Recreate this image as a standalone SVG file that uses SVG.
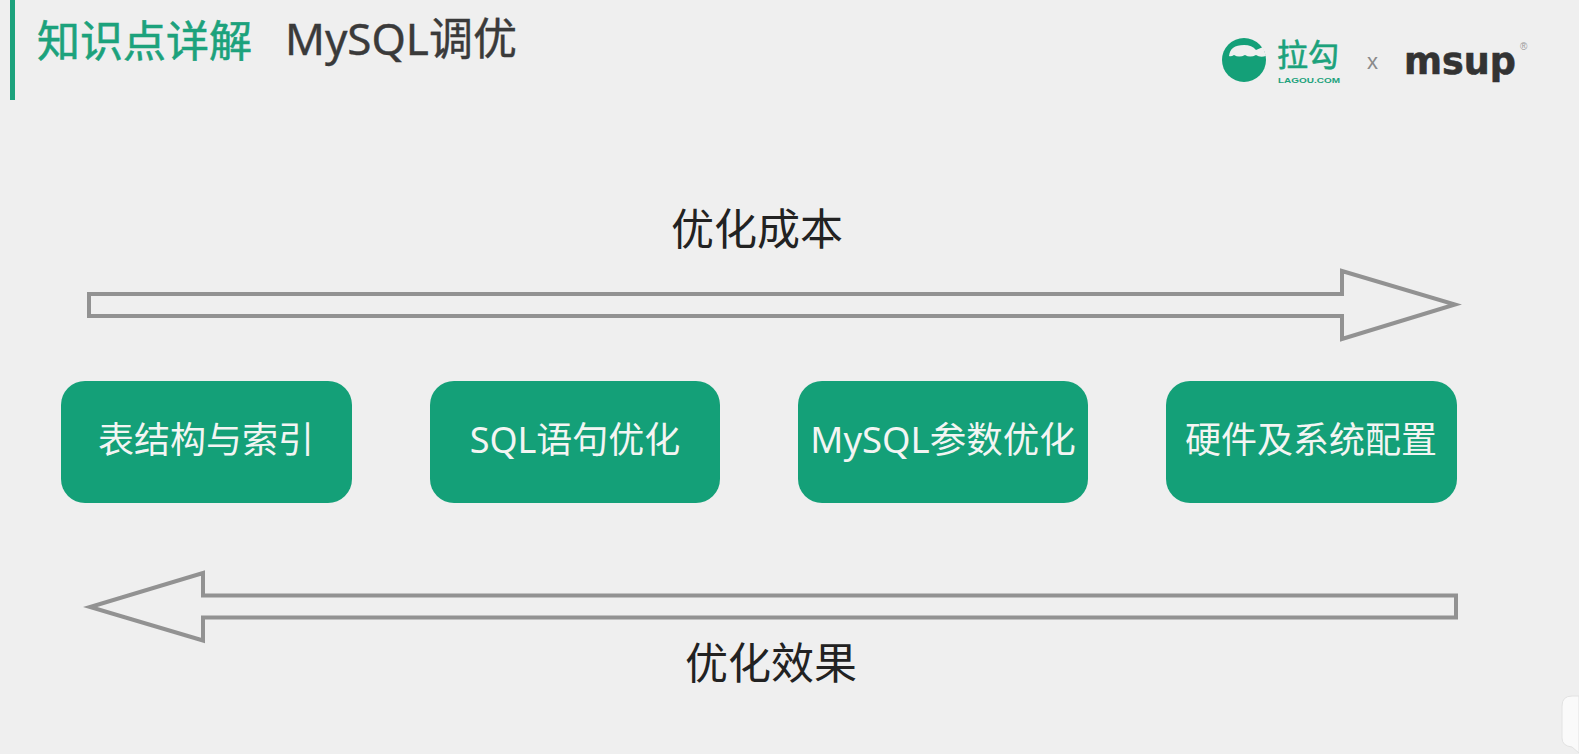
<svg xmlns="http://www.w3.org/2000/svg" width="1579" height="754" viewBox="0 0 1579 754">
<style>
text{font-family:"Liberation Sans","Noto Sans CJK SC",sans-serif}
.cjk{font-family:"Noto Sans CJK SC","Noto Sans",sans-serif}
.box{fill:#14a078}
.boxt{fill:#f3f5f3;font-size:36px;text-anchor:middle;font-family:"Noto Sans","Noto Sans CJK SC",sans-serif}
.cap{fill:#222;font-size:43px;text-anchor:middle;font-family:"Noto Sans CJK SC",sans-serif}
.arrow{fill:none;stroke:#929292;stroke-width:4;stroke-linejoin:miter}
</style>
<rect width="1579" height="754" fill="#efefef"/>
<g id="header">
<rect x="10" y="0" width="5" height="100" fill="#1ca27c"/>
<text x="37" y="57" font-size="43" fill="#1ca27c" stroke="#1ca27c" stroke-width="0.6" class="cjk">知识点详解</text>
<text x="285" y="55" font-size="44" fill="#3a3a3a" stroke="#3a3a3a" stroke-width="0.4" style="font-family:'Noto Sans','Noto Sans CJK SC',sans-serif">MySQL调优</text>
</g>
<g id="logo">
<circle cx="1244" cy="60" r="22" fill="#14a078"/>
<path d="M1229 56 Q1230 45 1244 45 Q1252 45 1256 50 L1263 47 L1266 56 Q1260 58 1256 55 Q1250 58 1245 55 Q1239 58 1234 55 Q1231 57 1229 56 Z" fill="#efefef"/>
<text x="1277" y="66" font-size="31" fill="#1ca27c" stroke="#1ca27c" stroke-width="0.6" class="cjk">拉勾</text>
<text x="1278" y="83" font-size="8" font-weight="bold" fill="#1ca27c" textLength="62" lengthAdjust="spacingAndGlyphs">LAGOU.COM</text>
<text x="1367" y="69" font-size="22" fill="#8a8a8a">x</text>
<text x="1404" y="74" font-size="36.500" font-weight="bold" fill="#333" stroke="#333" stroke-width="0.6" style="font-family:'DejaVu Sans',sans-serif">msup</text>
<text x="1520" y="50" font-size="10" fill="#999">®</text>
</g>
<g id="connectors">
<path id="cost-arrow" class="arrow" d="M89 294 H1342 V271 L1455 304.500 L1342 339 V316 H89 Z"/>
<path id="effect-arrow" class="arrow" d="M1456 595.500 H203 V573 L90 607 L203 640.500 V617.500 H1456 Z"/>
</g>
<g id="label-cost"><text class="cap" x="757" y="245">优化成本</text></g>
<g id="label-effect"><text class="cap" x="771" y="679">优化效果</text></g>
<g id="node-1"><rect class="box" x="61" y="381" width="291" height="122" rx="24"/><text class="boxt" x="206" y="453">表结构与索引</text></g>
<g id="node-2"><rect class="box" x="430" y="381" width="290" height="122" rx="24"/><text class="boxt" x="575" y="453">SQL语句优化</text></g>
<g id="node-3"><rect class="box" x="798" y="381" width="290" height="122" rx="24"/><text class="boxt" x="943" y="453" style="font-size:36.500px">MySQL参数优化</text></g>
<g id="node-4"><rect class="box" x="1166" y="381" width="291" height="122" rx="24"/><text class="boxt" x="1311" y="453">硬件及系统配置</text></g>
<g id="bubble">
<path d="M1579 696 H1572 Q1562 696 1562 706 V738 Q1562 746 1572 747 L1579 753 Z" fill="#fafafa" stroke="#e2e2e2" stroke-width="1"/>
</g>
</svg>
